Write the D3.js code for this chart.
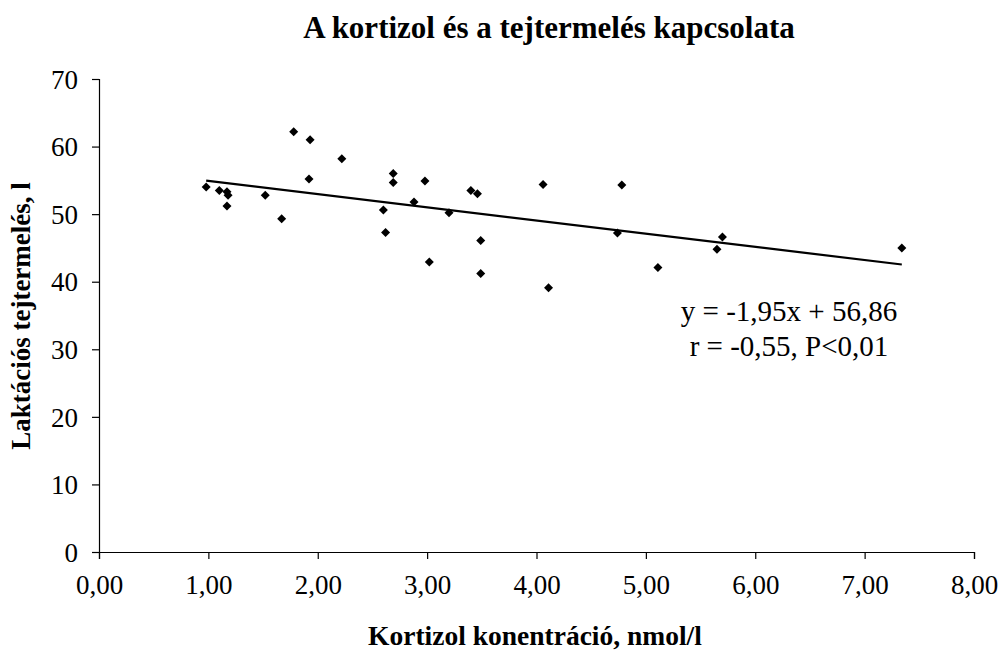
<!DOCTYPE html>
<html>
<head>
<meta charset="utf-8">
<script src="https://cdn.jsdelivr.net/npm/d3@7"></script>
<style>
  body { margin: 0; background: #fff; }
  text { font-family: "Liberation Serif", "Times New Roman", serif; fill: #000; }
</style>
</head>
<body>
<svg id="chart"></svg>
<script>
// kortizol (nmol/l) and lactation milk yield (l)
var cortisol = [0.98, 1.10, 1.17, 1.18, 1.17, 1.52, 1.67, 1.78, 1.93, 1.92,
                2.22, 2.69, 2.69, 2.60, 2.62, 2.98, 2.88, 3.02, 3.20, 3.40,
                3.46, 3.49, 3.49, 4.06, 4.11, 4.78, 4.74, 5.11, 5.70, 5.65, 7.34];
var milk = [54.0, 53.5, 53.3, 52.8, 51.2, 52.8, 49.3, 62.2, 61.0, 55.2,
            58.2, 56.0, 54.7, 50.6, 47.3, 54.9, 51.8, 42.9, 50.2, 53.5,
            53.0, 46.1, 41.2, 54.4, 39.1, 54.3, 47.2, 42.1, 46.6, 44.8, 45.0];
var xTicks = [0, 1, 2, 3, 4, 5, 6, 7, 8];
var yTicks = [0, 10, 20, 30, 40, 50, 60, 70];
var slope = -1.95, intercept = 56.86;
var eqLines = ["y = -1,95x + 56,86", "r = -0,55, P<0,01"];

var width = 1003, height = 656;
var margin = {left: 99, right: 29, top: 79, bottom: 104};

var svg = d3.select("#chart").attr("width", width).attr("height", height);

var x = d3.scaleLinear().domain([0, 8]).range([margin.left, width - margin.right]);
var y = d3.scaleLinear().domain([0, 70]).range([height - margin.bottom, margin.top]);

var fmt = function (d) { return d3.format(".2f")(d).replace(".", ","); };

var xAxis = svg.append("g")
    .attr("transform", "translate(0," + y(0) + ")")
    .call(d3.axisBottom(x).tickValues(xTicks).tickSize(7).tickPadding(16).tickFormat(fmt));
var yAxis = svg.append("g")
    .attr("transform", "translate(" + x(0) + ",0)")
    .call(d3.axisLeft(y).tickValues(yTicks).tickSize(7).tickPadding(14));

[xAxis, yAxis].forEach(function (a) {
    a.select(".domain").attr("stroke", "#000").attr("stroke-width", 1.2);
    a.selectAll(".tick line").attr("stroke", "#000").attr("stroke-width", 1.2);
    a.selectAll(".tick text").style("font-size", "27px")
        .style("font-family", "'Liberation Serif', serif").attr("fill", "#000");
});
xAxis.selectAll(".tick text").attr("dy", "0.72em");
yAxis.selectAll(".tick text").attr("dy", "0.34em");

// trend line
var x0 = d3.min(cortisol), x1 = d3.max(cortisol);
svg.append("line")
    .attr("x1", x(x0)).attr("y1", y(slope * x0 + intercept))
    .attr("x2", x(x1)).attr("y2", y(slope * x1 + intercept))
    .attr("stroke", "#000").attr("stroke-width", 2.2);

// diamond markers
var r = 4.5;
svg.selectAll("path.pt")
    .data(d3.range(cortisol.length))
    .enter().append("path")
    .attr("class", "pt")
    .attr("d", function (i) {
        var cx = x(cortisol[i]), cy = y(milk[i]);
        return "M" + cx + "," + (cy - r) + "L" + (cx + r) + "," + cy +
               "L" + cx + "," + (cy + r) + "L" + (cx - r) + "," + cy + "Z";
    })
    .attr("fill", "#000");

// equation text
svg.selectAll("text.eq")
    .data(eqLines)
    .enter().append("text")
    .attr("class", "eq")
    .attr("x", 789)
    .attr("y", function (d, i) { return 321 + i * 35; })
    .attr("text-anchor", "middle")
    .style("font-size", "29px")
    .text(function (d) { return d; });

svg.append("text")
    .attr("x", 549).attr("y", 38)
    .attr("text-anchor", "middle")
    .style("font-size", "31px").style("font-weight", "bold")
    .text("A kortizol és a tejtermelés kapcsolata");

svg.append("text")
    .attr("x", 535).attr("y", 645)
    .attr("text-anchor", "middle")
    .style("font-size", "27.5px").style("font-weight", "bold")
    .text("Kortizol konentráció, nmol/l");

svg.append("text")
    .attr("transform", "translate(30,316) rotate(-90)")
    .attr("text-anchor", "middle")
    .style("font-size", "27px").style("font-weight", "bold")
    .text("Laktációs tejtermelés, l");
</script>
</body>
</html>
